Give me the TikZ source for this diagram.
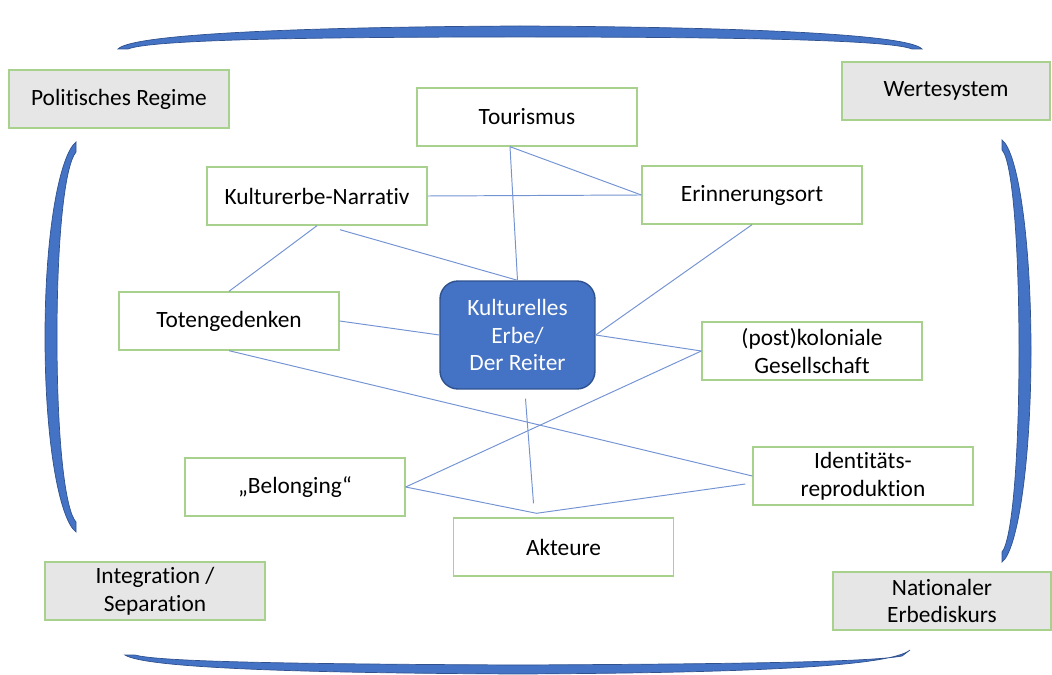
\documentclass[tikz,border=0pt]{standalone}
\usepackage{fontspec}
\setmainfont{Carlito}[RawFeature={-liga;-clig;-rlig;-calt;-dlig}]
\usetikzlibrary{positioning, calc}
\definecolor{boxgreen}{HTML}{A9D18E}
\definecolor{boxgray}{HTML}{E7E6E6}
\definecolor{coreblue}{HTML}{4472C4}
\definecolor{coreedge}{HTML}{2F528F}
\definecolor{linkblue}{HTML}{7393D3}

\begin{document}
\begin{tikzpicture}[
  x=0.02cm, y=-0.02cm,
  every node/.style={font=\fontsize{13.3}{15.8}\selectfont, align=center, inner sep=0pt},
  topic/.style={rectangle, draw=boxgreen, line width=0.8pt, fill=white,
    minimum width=4.4cm, minimum height=1.16cm, text=black},
  frame/.style={topic, fill=boxgray},
  core/.style={rectangle, draw=coreedge, line width=0.8pt, fill=coreblue,
    rounded corners=0.36cm, minimum width=3.1cm, minimum height=2.16cm, text=white},
  link/.style={draw=linkblue, line width=0.55pt},
  bracket/.style={fill=coreblue, draw=coreedge, line width=0.4pt}
]
\useasboundingbox (0,0) rectangle (1052,675);

% brackets
\path[bracket] (118,49) .. controls (132,34) and (300,27) .. (520,26)
  .. controls (740,27) and (908,34) .. (922,49) -- (912,49)
  .. controls (890,40) and (740,37) .. (520,37)
  .. controls (300,37) and (150,40) .. (128,49) -- cycle;
\path[bracket] (125,655) .. controls (145,668) and (300,673) .. (518,674)
  .. controls (740,673) and (890,667) .. (910,650) -- (902,656)
  .. controls (870,662) and (740,664) .. (518,665)
  .. controls (300,664) and (160,662) .. (135,655) -- cycle;
\path[bracket] (76,142) .. controls (60,155) and (45,230) .. (45,337)
  .. controls (45,445) and (60,520) .. (76,532) -- (76,522)
  .. controls (65,510) and (57,440) .. (57,337)
  .. controls (57,235) and (65,165) .. (76,152) -- cycle;
\path[bracket] (1002,140) .. controls (1018,152) and (1031,240) .. (1031,351)
  .. controls (1031,460) and (1018,550) .. (1002,562) -- (1002,552)
  .. controls (1012,540) and (1019,460) .. (1019,351)
  .. controls (1019,240) and (1012,160) .. (1002,150) -- cycle;

% outer frame
\node[frame] (pol) at (119,99) {Politisches Regime};
\node[frame, minimum width=4.16cm] (wert) at (946,91) {Wertesystem};
\node[frame] (integ) at (155,591) {Integration /\\Separation};
\node[frame, minimum width=4.36cm] (nat) at (942,601) {Nationaler\\Erbediskurs};

% topics
\node[topic] (tour) at (527,117) {Tourismus};
\node[topic] (kult) at (317,196) {Kulturerbe-Narrativ};
\node[topic] (eri) at (752,195) {Erinnerungsort};
\node[topic] (toten) at (229,321) {Totengedenken};
\node[core] (core) at (517.5,335) {Kulturelles\\Erbe/\\Der Reiter};
\node[topic] (post) at (812,351) {(post)koloniale\\Gesellschaft};
\node[topic] (ident) at (863,476) {Identitäts-\\reproduktion};
\node[topic] (bel) at (295,487) {„Belonging“};
\node[topic] (akt) at (563.5,547) {Akteure};
\coordinate (apex) at ($(akt.north)+(-27,-4)$);

% links
\draw[link] ($(tour.south)+(-17,0)$) -- (eri.west);
\draw[link] ($(tour.south)+(-17,0)$) -- (core.north);
\draw[link] (kult.east) -- (eri.west);
\draw[link] (kult.south) -- (toten.north);
\draw[link] ($(kult.south)+(23,4)$) -- (core.north);
\draw[link] (toten.east) -- (core.west);
\draw[link] (eri.south) -- (core.east);
\draw[link] (core.east) -- (post.west);
\draw[link] (post.west) -- (bel.east);
\draw[link] (toten.south) -- (ident.west);
\draw[link] (bel.east) -- (apex) -- ($(ident.west)+(-7,8)$);
\draw[link] ($(core.south)+(8,9)$) -- ($(apex)+(-3,-10)$);
\end{tikzpicture}
\end{document}
